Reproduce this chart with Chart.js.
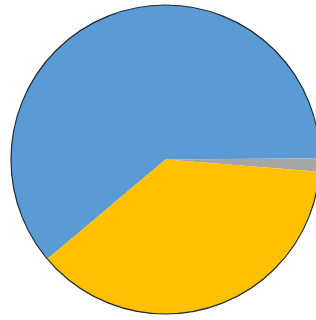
<!DOCTYPE html>
<html>
<head>
<meta charset="utf-8">
<script src="https://cdn.jsdelivr.net/npm/chart.js@4"></script>
<style>
  html, body { margin: 0; padding: 0; background: #fff; overflow: hidden; }
  #wrap { width: 316px; height: 320px; overflow: hidden; }
</style>
</head>
<body>
<div id="wrap"><canvas id="c" width="331" height="320"></canvas></div>
<script>
// 資料
const labels = ['A', 'B', 'C'];
const values = [61.0, 1.4, 37.6];
const colors = ['#5B9BD5', '#A5A5A5', '#FFC000'];

// 外框 (只畫圓周，不畫扇形之間的線)
const outline = {
    id: 'outline',
    afterDatasetsDraw(chart) {
        const arc = chart.getDatasetMeta(0).data[0];
        if (!arc) return;
        const ctx = chart.ctx;
        ctx.save();
        ctx.beginPath();
        ctx.arc(arc.x, arc.y, arc.outerRadius, 0, Math.PI * 2);
        ctx.strokeStyle = '#1e2a36';
        ctx.lineWidth = 1.2;
        ctx.stroke();
        ctx.restore();
    }
};

new Chart(document.getElementById('c').getContext('2d'), {
    type: 'pie',
    data: {
        labels: labels,
        datasets: [{
            data: values,
            backgroundColor: colors,
            borderWidth: 0
        }]
    },
    options: {
        responsive: false,
        animation: false,
        devicePixelRatio: 1,
        rotation: 229.9,
        layout: { padding: { left: 11, right: 11, top: 5, bottom: 6 } },
        plugins: {
            legend: { display: false },
            tooltip: { enabled: false }
        }
    },
    plugins: [outline]
});
</script>
</body>
</html>
